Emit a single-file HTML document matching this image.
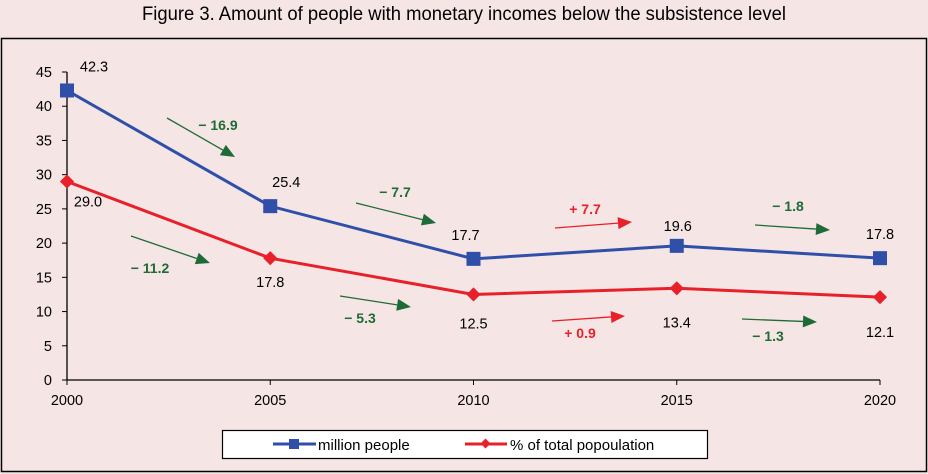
<!DOCTYPE html>
<html><head><meta charset="utf-8"><style>
body{margin:0;background:#f5e5e5;}
svg{display:block;font-family:"Liberation Sans",sans-serif;}
</style></head><body>
<svg id="c" width="928" height="474">
<rect x="0" y="0" width="928" height="474" fill="#f5e5e5"/>
<text x="464" y="20" text-anchor="middle" font-size="19" transform="translate(464 0) scale(0.97 1) translate(-464 0)">Figure 3. Amount of people with monetary incomes below the subsistence level</text>
<rect x="1.5" y="38.5" width="925" height="433" fill="#f5e5e5" stroke="#000" stroke-width="1.5"/>
<g id="axes"></g><g id="ann"></g><g id="series"></g>
<g>
<rect x="222.5" y="430.5" width="485" height="28" fill="#fff" stroke="#000" stroke-width="1.2"/>
<line x1="273" y1="444" x2="316" y2="444" stroke="#2f4fa8" stroke-width="3"/>
<rect x="289" y="439" width="10" height="10" fill="#2f4fa8"/>
<text x="318" y="450" font-size="15">million people</text>
<line x1="465" y1="444" x2="507" y2="444" stroke="#e8202a" stroke-width="3"/>
<rect x="482" y="440" width="7" height="7" fill="#e8202a" transform="rotate(45 485.5 443.5)"/>
<text x="510" y="450" font-size="15">% of total popoulation</text>
</g>
</svg>
<script>
const years=[2000,2005,2010,2015,2020];
const million=[42.3,25.4,17.7,19.6,17.8];
const percent=[29.0,17.8,12.5,13.4,12.1];
const yTicks=[0,5,10,15,20,25,30,35,40,45];
const changeMillion=["− 16.9","− 7.7","+ 7.7","− 1.8"];
const changePercent=["− 11.2","− 5.3","+ 0.9","− 1.3"];
const NS="http://www.w3.org/2000/svg";
const X=v=>67+(v-2000)*(880-67)/20;
const Y=v=>380-v*(308/45);
function mk(tag,at,parent,txt){const e=document.createElementNS(NS,tag);for(const k in at)e.setAttribute(k,at[k]);if(txt!==undefined)e.textContent=txt;document.getElementById(parent).appendChild(e);return e;}
let e=mk('line',{x1:67,y1:Y(45),x2:67,y2:380,stroke:'#000','stroke-width':1.3},'axes');


e=mk('line',{x1:67,y1:380,x2:880,y2:380,stroke:'#000','stroke-width':1.3},'axes');


yTicks.forEach(t=>{
 mk('line',{x1:62,y1:Y(t),x2:67,y2:Y(t),stroke:'#000'},'axes');
 e=mk('text',{x:52,y:Y(t)+5,'text-anchor':'end','font-size':14.5},'axes',String(t));
 
 
});
years.forEach(y=>{
 mk('line',{x1:X(y),y1:380,x2:X(y),y2:385,stroke:'#000'},'axes');
 e=mk('text',{x:X(y),y:405,'text-anchor':'middle','font-size':14.5},'axes',String(y));
 
 
});
function series(vals,color,marker,name,labOff){
 e=mk('polyline',{points:vals.map((v,i)=>X(years[i])+','+Y(v)).join(' '),fill:'none',stroke:color,'stroke-width':3},'series');
 
 
 vals.forEach((v,i)=>{
  const cx=X(years[i]),cy=Y(v);
  if(marker==='sq')e=mk('rect',{x:cx-7,y:cy-7,width:14,height:14,fill:color},'series');
  else e=mk('rect',{x:cx-5,y:cy-5,width:10,height:10,fill:color,transform:`rotate(45 ${cx} ${cy})`},'series');
  
  
  const o=labOff[i];
  e=mk('text',{x:cx+o[0],y:cy+o[1],'text-anchor':'middle','font-size':14.5},'series',v.toFixed(1));
  
  
 });
}
series(million,'#2f4fa8','sq','million-people',[[27,-19],[16,-19],[-8,-19],[1,-15],[0,-19]]);
series(percent,'#e8202a','dia','percent-population',[[21,25],[0,29],[0,34],[0,39],[0,40]]);
const green='#1e6b35',red='#e8202a';
function arrow(x1,y1,x2,y2,col,lab,lx,ly,name){
 const a=Math.atan2(y2-y1,x2-x1),L=14,W=6;
 const bx=x2-L*Math.cos(a),by=y2-L*Math.sin(a);
 mk('line',{x1,y1,x2:bx,y2:by,stroke:col,'stroke-width':1.3},'ann');
 mk('polygon',{points:`${x2},${y2} ${bx+W*Math.sin(a)},${by-W*Math.cos(a)} ${bx-W*Math.sin(a)},${by+W*Math.cos(a)}`,fill:col},'ann');
 e=mk('text',{x:lx,y:ly,'text-anchor':'middle','font-size':14,'font-weight':'bold',fill:col},'ann',lab);
 
 
}
arrow(167,118,235,157,green,changeMillion[0],218,130,'change-million-2000-2005');
arrow(356,203,436,223,green,changeMillion[1],395,197,'change-million-2005-2010');
arrow(555,228,632,222,red,changeMillion[2],585,214,'change-million-2010-2015');
arrow(755,225,830,230,green,changeMillion[3],788,211,'change-million-2015-2020');
arrow(131,236,210,263,green,changePercent[0],150,273,'change-percent-2000-2005');
arrow(340,296,411,307,green,changePercent[1],360,323,'change-percent-2005-2010');
arrow(552,321,625,316,red,changePercent[2],580,338,'change-percent-2010-2015');
arrow(742,319,817,322,green,changePercent[3],768,341,'change-percent-2015-2020');
</script>
</body></html>
